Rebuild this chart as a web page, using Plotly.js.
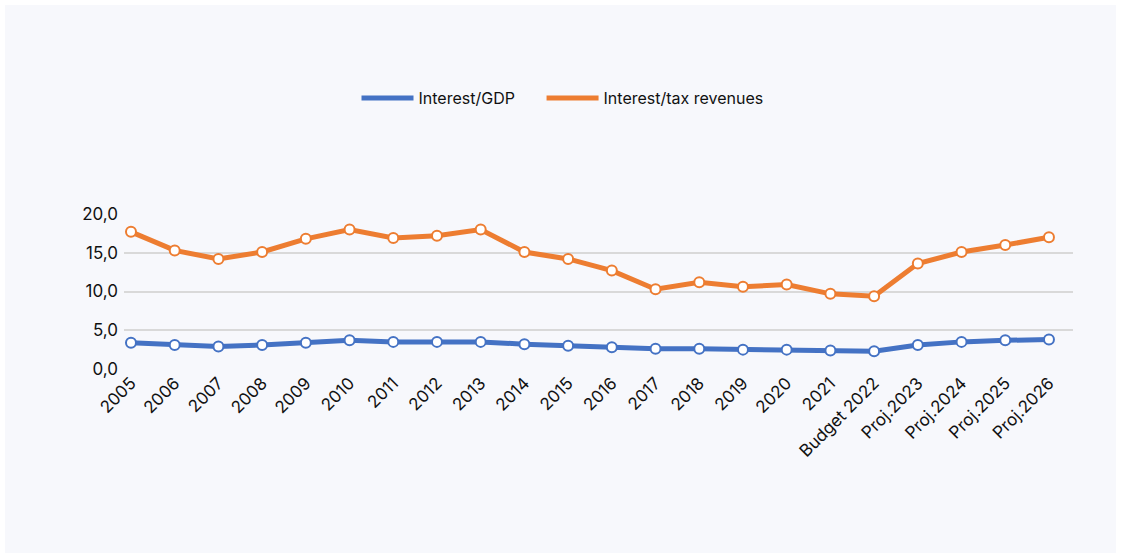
<!DOCTYPE html>
<html>
<head>
<meta charset="utf-8">
<script src="https://cdn.plot.ly/plotly-3.0.1.min.js"></script>
<style>
  html, body { margin: 0; padding: 0; background: #ffffff; width: 1121px; height: 558px; overflow: hidden; }
  #chart { position: absolute; left: 5px; top: 5px; width: 1111px; height: 548px; }
</style>
</head>
<body>
<div id="chart"></div>
<script>
const categories = ["2005","2006","2007","2008","2009","2010","2011","2012","2013","2014","2015","2016","2017","2018","2019","2020","2021","Budget 2022","Proj.2023","Proj.2024","Proj.2025","Proj.2026"];
const interestGDP = [3.4, 3.1, 2.9, 3.1, 3.4, 3.7, 3.5, 3.5, 3.5, 3.2, 3.0, 2.8, 2.6, 2.6, 2.5, 2.5, 2.4, 2.3, 3.1, 3.5, 3.7, 3.8];
const interestTax = [17.7, 15.3, 14.2, 15.1, 16.8, 18.0, 16.9, 17.2, 18.0, 15.1, 14.2, 12.7, 10.3, 11.2, 10.6, 10.9, 9.7, 9.4, 13.6, 15.1, 16.0, 17.0];
const seriesNames = ["Interest/GDP", "Interest/tax revenues"];
const seriesColors = ["#4472C4", "#ED7D31"];

const idx = categories.map((c, i) => i);
const fontFam = "Inter, 'Noto Sans', sans-serif";
const txtColor = "#111111";

function lineTrace(name, values, color, legendId) {
  return {
    type: "scatter", mode: "lines", name: name,
    x: idx, y: values,
    line: { color: color, width: 5 },
    showlegend: true, cliponaxis: false, legendgroup: name, legend: legendId
  };
}
function markerTrace(name, values, color) {
  return {
    type: "scatter", mode: "markers", name: name,
    x: idx, y: values,
    marker: { size: 10, color: "#ffffff", line: { color: color, width: 2 } },
    showlegend: false, cliponaxis: false, legendgroup: name
  };
}

const data = [
  lineTrace(seriesNames[0], interestGDP, seriesColors[0], "legend"),
  lineTrace(seriesNames[1], interestTax, seriesColors[1], "legend2"),
  markerTrace(seriesNames[0], interestGDP, seriesColors[0]),
  markerTrace(seriesNames[1], interestTax, seriesColors[1])
];

function legendBox(xPos) {
  return {
    orientation: "h",
    x: xPos, xanchor: "left",
    y: 1.748, yanchor: "middle",
    font: { family: fontFam, size: 16, color: txtColor },
    bgcolor: "rgba(0,0,0,0)",
    itemwidth: 52
  };
}

const layout = {
  width: 1111,
  height: 548,
  paper_bgcolor: "#f7f8fc",
  plot_bgcolor: "#f7f8fc",
  margin: { l: 119, r: 43, t: 209, b: 184 },
  separators: ", ",
  font: { family: fontFam, size: 16, color: txtColor },
  showlegend: true,
  legend: legendBox(0.245),
  legend2: legendBox(0.44),
  xaxis: {
    type: "linear",
    range: [-0.16, 21.55],
    tickmode: "array",
    tickvals: idx,
    ticktext: categories,
    tickangle: -45,
    showgrid: false,
    zeroline: false,
    showline: false,
    ticks: "",
    tickfont: { family: fontFam, size: 17, color: txtColor },
    fixedrange: true
  },
  yaxis: {
    range: [0, 20],
    tickmode: "array",
    tickvals: [0, 5, 10, 15, 20],
    tickformat: ".1f",
    showgrid: true,
    gridcolor: "#d9d9d9",
    gridwidth: 2,
    zeroline: false,
    showline: false,
    ticks: "",
    ticklabelstandoff: 5,
    tickfont: { family: fontFam, size: 17, color: txtColor },
    fixedrange: true
  }
};

Plotly.newPlot("chart", data, layout, { displayModeBar: false, staticPlot: true });
</script>
</body>
</html>
